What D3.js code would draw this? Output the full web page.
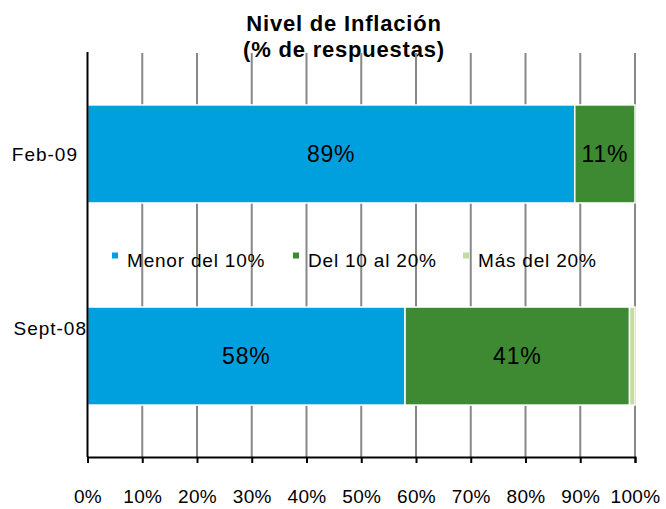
<!DOCTYPE html>
<html lang="es">
<head>
  <meta charset="UTF-8">
  <title>Nivel de Inflación</title>
  <style>
    body { margin: 0; background: #fff; }
    text { font-family: "Liberation Sans", Arial, sans-serif; }
  </style>
</head>
<body>
  <script src="https://cdn.jsdelivr.net/npm/d3@7"></script>
  <script>
    // datos
    let categories = ['Feb-09', 'Sept-08'];
    let seriesNames = ['Menor del 10%', 'Del 10 al 20%', 'Más del 20%'];
    let menor10 = [89, 58];
    let del10al20 = [11, 41];
    let mas20 = [0, 1];
    let xTicks = [0, 10, 20, 30, 40, 50, 60, 70, 80, 90, 100];
    let colors = ['#00a0de', '#3d8a32', '#c4dca0'];

    let width = 666;
    let height = 509;
    let svg = d3.select('body')
                .append('svg')
                .attr('width', width)
                .attr('height', height);

    let plotLeft = 87.5, plotRight = 635, plotTop = 53, plotBottom = 457;

    let x = d3.scaleLinear().domain([0, 100]).range([plotLeft, plotRight]);
    let y = d3.scaleBand().domain(categories).range([plotTop, plotBottom]).paddingInner(0.515).paddingOuter(0.257);

    // titulo
    svg.append('text').attr('x', 344).attr('y', 31).attr('text-anchor', 'middle')
       .attr('font-size', 22).attr('font-weight', 'bold').attr('letter-spacing', 0.8)
       .text('Nivel de Inflación');
    svg.append('text').attr('x', 344).attr('y', 57).attr('text-anchor', 'middle')
       .attr('font-size', 22).attr('font-weight', 'bold').attr('letter-spacing', 0.8)
       .text('(% de respuestas)');

    // lineas de cuadricula
    svg.append('g')
       .selectAll('line')
       .data(xTicks.slice(1))
       .enter()
       .append('line')
       .attr('x1', d => x(d)).attr('x2', d => x(d))
       .attr('y1', plotTop).attr('y2', plotBottom)
       .attr('stroke', '#888').attr('stroke-width', 2);

    // barras apiladas
    let rows = categories.map((c, i) => ({ cat: c, v: [menor10[i], del10al20[i], mas20[i]] }));
    rows.forEach(r => {
      let acc = 0;
      r.v.forEach((v, j) => {
        if (v > 0) {
          svg.append('rect')
             .attr('x', x(acc))
             .attr('y', y(r.cat))
             .attr('width', x(acc + v) - x(acc))
             .attr('height', y.bandwidth())
             .attr('fill', colors[j])
             .attr('stroke', '#fff')
             .attr('stroke-width', 1.5);
          if (v >= 5) {
            svg.append('text')
               .attr('x', x(acc + v / 2))
               .attr('y', y(r.cat) + y.bandwidth() / 2 + 8)
               .attr('text-anchor', 'middle')
               .attr('font-size', 23)
               .attr('letter-spacing', 0.8)
               .text(v + '%');
          }
        }
        acc += v;
      });
    });

    // ejes
    let xAxis = d3.axisBottom(x).tickValues(xTicks).tickFormat(d => d + '%').tickSize(6).tickPadding(27);
    let gx = svg.append('g').attr('transform', `translate(0, ${plotBottom})`).call(xAxis);
    gx.select('.domain').attr('stroke', '#000').attr('stroke-width', 2);
    gx.selectAll('.tick line').attr('stroke', '#000').attr('stroke-width', 2);
    gx.selectAll('text').attr('font-size', 19).attr('fill', '#000').attr('letter-spacing', 0.3)
      .attr('font-family', '"Liberation Sans", Arial, sans-serif');

    svg.append('line').attr('x1', plotLeft).attr('x2', plotLeft).attr('y1', plotTop - 1).attr('y2', plotBottom)
       .attr('stroke', '#000').attr('stroke-width', 2);

    // etiquetas de categoria
    let catRight = [78, 87];
    let catShift = [7, -21];
    svg.selectAll('.cat')
       .data(categories)
       .enter()
       .append('text')
       .attr('class', 'cat')
       .attr('x', (d, i) => catRight[i])
       .attr('y', (d, i) => y(d) + y.bandwidth() / 2 + catShift[i])
       .attr('text-anchor', 'end')
       .attr('font-size', 19)
       .attr('letter-spacing', 1)
       .text(d => d);

    // leyenda
    let legendX = [112, 293, 463];
    let lg = svg.append('g');
    seriesNames.forEach((n, i) => {
      lg.append('rect').attr('x', legendX[i]).attr('y', 252.5).attr('width', 6).attr('height', 6).attr('fill', colors[i]);
      lg.append('text').attr('x', legendX[i] + 15).attr('y', 266.5).attr('font-size', 19)
        .attr('letter-spacing', 0.8).text(n);
    });
  </script>
</body>
</html>
